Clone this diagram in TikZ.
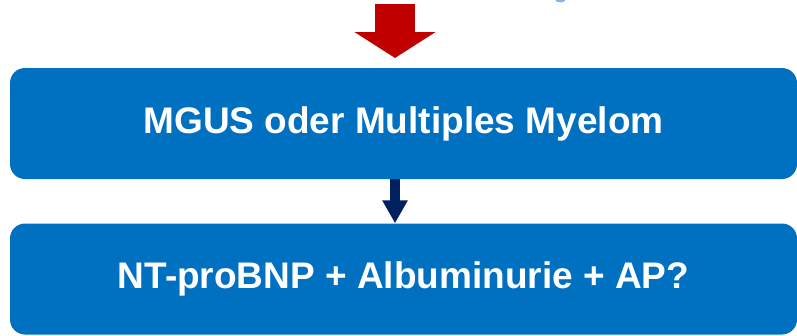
\documentclass[tikz,border=0pt]{standalone}
\usepackage{fontspec}
\setmainfont{Liberation Sans}
\usetikzlibrary{arrows.meta}
\definecolor{boxblue}{HTML}{0070C0}
\definecolor{arrowred}{HTML}{C00000}
\definecolor{arrownavy}{HTML}{002060}
\definecolor{lightblue}{HTML}{7FB2E5}
\begin{document}
\begin{tikzpicture}[x=1pt,y=-1pt,
  stepbox/.style={rectangle,rounded corners=15pt,fill=boxblue,text=white,
    minimum width=787pt,minimum height=111pt,inner sep=0pt,
    font=\fontsize{37}{44}\selectfont\bfseries}]
\useasboundingbox (0,0) rectangle (797,335);

\coordinate (T) at (395,4);
\coordinate (Tip) at (395,58);

\node[stepbox] (mgus) at (403.5,123.5) {MGUS oder Multiples Myelom};
\node[stepbox] (diag) at (403.5,279) {NT-proBNP + Albuminurie + AP?};

\draw[arrowred,line width=40pt,-{Triangle[width=80pt,length=26pt]}] (T) -- (Tip);
\draw[arrownavy,line width=10pt,-{Triangle[width=24pt,length=23pt]}]
  ([xshift=-8.5pt]mgus.south) -- ([xshift=-8.5pt]diag.north);

\draw[lightblue,line width=2pt] (555,-2) arc (160:20:5.5);
\end{tikzpicture}
\end{document}
